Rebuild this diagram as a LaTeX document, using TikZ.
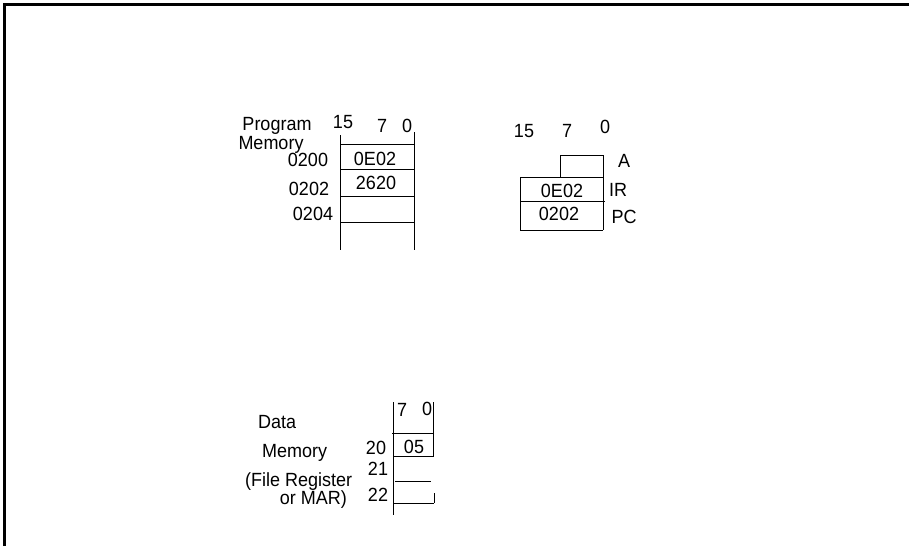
\documentclass[tikz,border=0pt]{standalone}
\usepackage{graphicx}
\usepackage{fontspec}
\setmainfont{Liberation Sans}
\newcommand{\vtxt}[1]{\scalebox{1}[1.06]{#1}}
\begin{document}
\begin{tikzpicture}[x=1pt,y=-1pt,
  lbl/.style={font=\fontsize{18}{18}\selectfont, inner sep=0pt, anchor=base},
  ln/.style={line width=0.8pt},
  frame/.style={line width=3pt}]
\useasboundingbox (0,0) rectangle (909,546);
% frame
\draw[frame] (4.5,546) -- (4.5,4.5) -- (909,4.5);
% ---------- Program memory ----------
\node[lbl] (pgm) at (277,130) {\vtxt{Program}};
\node[lbl] (pgmm) at (271,149) {\vtxt{Memory}};
\node[lbl] (p15) at (343,128) {\vtxt{15}};
\node[lbl] (p7) at (382,132) {\vtxt{7}};
\node[lbl] (p0) at (407,132) {\vtxt{0}};
\draw[ln] (340,135) -- (340,250);
\draw[ln] (414,132) -- (414,250);
\draw[ln] (340,144) -- (415,144);
\draw[ln] (340,169) -- (414,169);
\draw[ln] (340,196) -- (414,196);
\draw[ln] (340,222) -- (414,222);
\node[lbl] (a200) at (308,166) {\vtxt{0200}};
\node[lbl] (a202) at (309,195) {\vtxt{0202}};
\node[lbl] (a204) at (313,220) {\vtxt{0204}};
\node[lbl] (v200) at (375,165) {\vtxt{0E02}};
\node[lbl] (v202) at (376,189) {\vtxt{2620}};
% ---------- Registers ----------
\node[lbl] (r15) at (524,137) {\vtxt{15}};
\node[lbl] (r7) at (567,137) {\vtxt{7}};
\node[lbl] (r0) at (605,133) {\vtxt{0}};
\draw[ln] (560,177) -- (560,155) -- (603,155) -- (603,230);
\draw[ln] (520,177) -- (603,177);
\draw[ln] (520,177) -- (520,230);
\draw[ln] (520,201) -- (605,201);
\draw[ln] (520,230) -- (603,230);
\node[lbl] (ra) at (624,167) {\vtxt{A}};
\node[lbl] (rir) at (562,197) {\vtxt{0E02}};
\node[lbl] (rirl) at (618,196) {\vtxt{IR}};
\node[lbl] (rpc) at (559,220) {\vtxt{0202}};
\node[lbl] (rpcl) at (624,223) {\vtxt{PC}};
% ---------- Data memory ----------
\node[lbl] (d7) at (402,416) {\vtxt{7}};
\node[lbl] (d0) at (427,415) {\vtxt{0}};
\draw[ln] (393,402) -- (393,515);
\draw[ln] (433,402) -- (433,457);
\draw[ln] (434,493) -- (434,503);
\draw[ln] (392,433) -- (433,433);
\draw[ln] (393,456) -- (433,456);
\draw[ln] (395,481) -- (431,481);
\draw[ln] (393,503) -- (434,503);
\node[lbl] (d05) at (414,453) {\vtxt{05}};
\node[lbl] (d20) at (376,454) {\vtxt{20}};
\node[lbl] (d21) at (378,475) {\vtxt{21}};
\node[lbl] (d22) at (378,501) {\vtxt{22}};
\node[lbl, anchor=base west] (dd) at (258,428) {\vtxt{Data}};
\node[lbl, anchor=base west] (dm) at (262,457) {\vtxt{Memory}};
\node[lbl, anchor=base west] (df) at (245,486) {\vtxt{(File Register}};
\node[lbl, anchor=base east] (dmar) at (347,504) {\vtxt{or MAR)}};
\end{tikzpicture}
\end{document}
